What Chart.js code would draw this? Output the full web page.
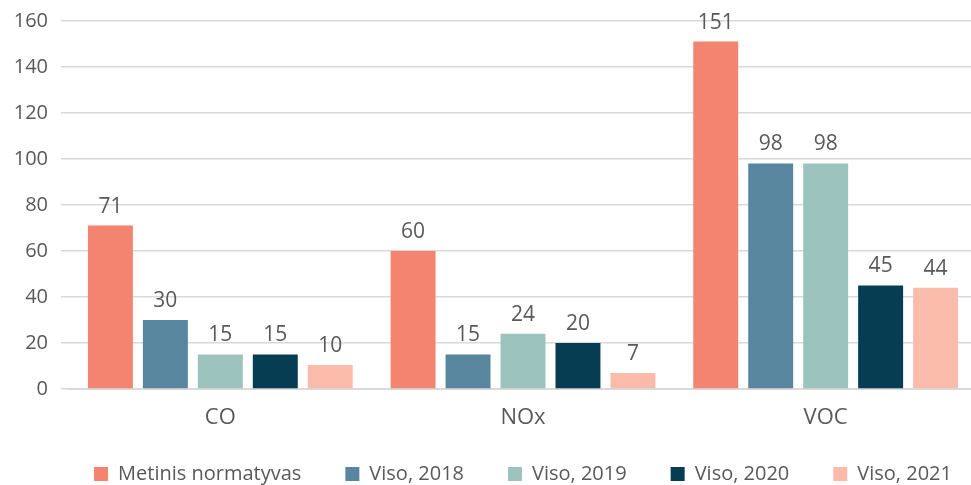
<!DOCTYPE html>
<html>
<head>
<meta charset="utf-8">
<script src="https://cdn.jsdelivr.net/npm/chart.js@4/dist/chart.umd.min.js"></script>
<style>
    html, body { margin: 0; padding: 0; background: #fff; overflow: hidden; }
    #wrap { width: 979px; height: 485px; }
</style>
</head>
<body>
<div id="wrap"><canvas id="emisChart"></canvas></div>
<script>
const categories = ["CO", "NOx", "VOC"];
const seriesNames = ["Metinis normatyvas", "Viso, 2018", "Viso, 2019", "Viso, 2020", "Viso, 2021"];
const normatyvas = [71, 60, 151];
const viso2018 = [30, 15, 98];
const viso2019 = [15, 24, 98];
const viso2020 = [15, 20, 45];
const viso2021 = [10.4, 7, 44];
const yTicks = [0, 20, 40, 60, 80, 100, 120, 140, 160];

const colors = ["#F3846F", "#58869E", "#9CC3BE", "#073D52", "#FABBAB"];
const textColor = "#595959";
const fontFamily = "'Open Sans', sans-serif";

const allSeries = [normatyvas, viso2018, viso2019, viso2020, viso2021];

// draws the value above each bar
const valueLabels = {
    id: "valueLabels",
    afterDatasetsDraw(chart) {
        const ctx = chart.ctx;
        ctx.save();
        ctx.fillStyle = textColor;
        ctx.font = "21px " + fontFamily;
        ctx.textAlign = "center";
        ctx.textBaseline = "alphabetic";
        chart.data.datasets.forEach((ds, i) => {
            chart.getDatasetMeta(i).data.forEach((bar, j) => {
                ctx.fillText(Math.round(ds.data[j]), bar.x, bar.y - 13);
            });
        });
        ctx.restore();
    }
};

// legend: wide gaps, one row, small layout height, text placed lower down
const legendFix = {
    id: "legendFix",
    beforeInit(chart) {
        const fit = chart.legend.fit;
        chart.legend.fit = function () {
            const mw = this.maxWidth;
            this.maxWidth = 2000;
            fit.call(this);
            this.maxWidth = mw;
            this.width = mw;
            this.height = 38;
        };
    },
    afterLayout(chart) {
        const lg = chart.legend;
        lg.top = 420;
        lg.bottom = chart.height;
        // widen equally on both sides so centring stays and nothing wraps
        lg.left -= 100;
        lg.right += 100;
    }
};

new Chart(document.getElementById("emisChart").getContext("2d"), {
    type: "bar",
    data: {
        labels: categories,
        datasets: allSeries.map((vals, i) => ({
            label: seriesNames[i],
            data: vals,
            backgroundColor: colors[i],
            categoryPercentage: 0.908,
            barPercentage: 0.818
        }))
    },
    options: {
        responsive: true,
        maintainAspectRatio: false,
        animation: false,
        layout: { padding: { top: 0, right: 2, left: 0, bottom: 0 } },
        plugins: {
            legend: {
                position: "bottom",
                fullSize: false,
                labels: {
                    color: textColor,
                    font: { family: fontFamily, size: 20 },
                    boxWidth: 14,
                    boxHeight: 14,
                    padding: 44
                }
            },
            tooltip: { enabled: false }
        },
        scales: {
            y: {
                min: 0,
                max: 160,
                afterBuildTicks: (axis) => {
                    axis.ticks = yTicks.map(v => ({ value: v }));
                },
                afterFit: (axis) => { axis.width = 69; },
                ticks: {
                    color: textColor,
                    font: { family: fontFamily, size: 20, lineHeight: 0.78 },
                    padding: 13
                },
                grid: {
                    color: "#D9D9D9",
                    lineWidth: 1.5,
                    drawTicks: true,
                    tickLength: 8
                },
                border: { display: false }
            },
            x: {
                ticks: {
                    color: textColor,
                    font: { family: fontFamily, size: 22, lineHeight: 1.09 },
                    padding: 17
                },
                grid: { display: false, drawTicks: false },
                border: { color: "#D9D9D9", width: 2 }
            }
        }
    },
    plugins: [valueLabels, legendFix]
});
</script>
</body>
</html>
